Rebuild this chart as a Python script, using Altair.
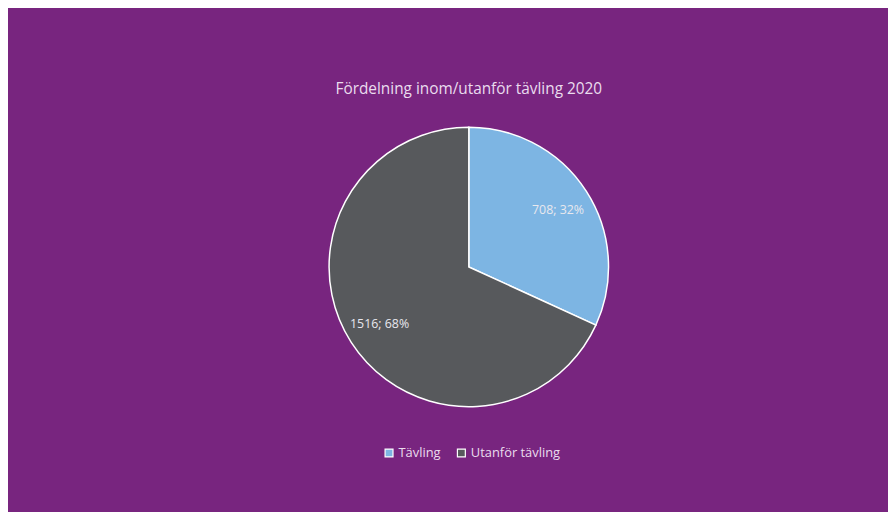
import altair as alt
import pandas as pd

categories = ["Tävling", "Utanför tävling"]
values = [708, 1516]
percents = ["32%", "68%"]
colors = ["#7db5e3", "#57595c"]

df = pd.DataFrame({
    "kategori": categories,
    "antal": values,
    "pct": percents,
    "order": [0, 1],
})
df["label"] = df["antal"].astype(str) + "; " + df["pct"]

BG = "#78257f"
W, H = 888, 504
CX, CY = 465, 259

base = alt.Chart(df).encode(
    theta=alt.Theta("antal:Q", stack=True),
    order=alt.Order("order:Q"),
)

pie = base.mark_arc(outerRadius=141, stroke="white", strokeWidth=1.5).encode(
    x=alt.value(CX), y=alt.value(CY),
    color=alt.Color(
        "kategori:N",
        scale=alt.Scale(domain=categories, range=colors),
        legend=alt.Legend(
            title=None, orient="none", direction="horizontal",
            legendX=378, legendY=440,
            symbolType="square", symbolSize=64,
            symbolStrokeColor="white", symbolStrokeWidth=1.2,
            labelColor="#eadcee", labelFontSize=13, labelFont="Open Sans",
            columnPadding=14, labelOffset=3,
        ),
    ),
)

labels = base.mark_text(radius=107, fontSize=12.5, font="Open Sans", color="#e8e8ee").encode(
    x=alt.value(CX), y=alt.value(CY),
    text="label:N",
)

title = alt.Chart(pd.DataFrame({"t": ["Fördelning inom/utanför tävling 2020"]})).mark_text(
    fontSize=15.5, font="Open Sans", color="#eadcee"
).encode(x=alt.value(CX), y=alt.value(79), text="t:N")

chart = alt.layer(pie, labels, title).properties(
    width=W, height=H, background=BG, padding=0,
).configure_view(stroke=None)

chart.save("out.html", embed_options={"renderer": "svg", "actions": False})
